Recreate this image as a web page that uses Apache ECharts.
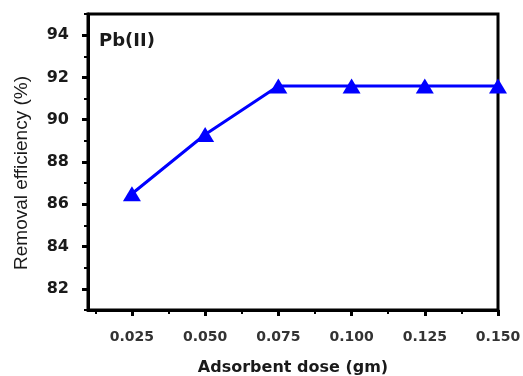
<!DOCTYPE html>
<html><head><meta charset="utf-8">
<script src="https://cdn.jsdelivr.net/npm/echarts@6/dist/echarts.min.js"></script>
<style>html,body{margin:0;padding:0;background:#fff}#c{width:523px;height:376px}</style>
</head><body><div id="c"></div>
<script>
const doses = [0.025, 0.050, 0.075, 0.100, 0.125, 0.150];
const removal = [86.5, 89.3, 91.6, 91.6, 91.6, 91.6];
const xMajor = [0.025, 0.050, 0.075, 0.100, 0.125, 0.150];
const xMinor = [0.0125, 0.0375, 0.0625, 0.0875, 0.1125, 0.1375];
const yMajor = [82, 84, 86, 88, 90, 92, 94];
const yMinor = [81, 83, 85, 87, 89, 91, 93, 95];

const chart = echarts.init(document.getElementById('c'));
const dv = 'DejaVu Sans, sans-serif';
chart.setOption({
  animation: false,
  grid: {left: 88, right: 25, top: 14, bottom: 66, show: true, borderColor: '#000', borderWidth: 3, containLabel: false, outerBoundsMode: 'none'},
  title: {text: 'Pb(II)', left: 94, top: 27, textStyle: {fontFamily: dv, fontWeight: 'bold', fontSize: 18, color: '#1a1a1a'}},
  xAxis: [{
    type: 'value', min: 0.01, max: 0.15,
    name: 'Adsorbent dose (gm)', nameLocation: 'middle', nameGap: 50,
    nameTextStyle: {fontFamily: dv, fontWeight: 'bold', fontSize: 16, color: '#1a1a1a'},
    axisLine: {lineStyle: {color: '#000', width: 3}},
    axisTick: {customValues: xMajor, length: 6, lineStyle: {color: '#000', width: 3}},
    axisLabel: {customValues: xMajor, margin: 20, fontSize: 14, fontFamily: dv, fontWeight: 'bold', color: '#333', formatter: v => v.toFixed(3)},
    splitLine: {show: false}
  }, {
    type: 'value', min: 0.01, max: 0.15, position: 'bottom',
    axisLine: {show: false},
    axisTick: {customValues: xMinor, length: 4, lineStyle: {color: '#000', width: 2}},
    axisLabel: {show: false}, splitLine: {show: false}
  }],
  yAxis: [{
    type: 'value', min: 81, max: 95,
    name: 'Removal efficiency (%)', nameLocation: 'middle', nameGap: 57,
    nameTextStyle: {fontFamily: 'Liberation Sans, Arial, sans-serif', fontSize: 19, color: '#1a1a1a', padding: [0, 22, 0, 0]},
    axisLine: {show: true, lineStyle: {color: '#000', width: 3}},
    axisTick: {customValues: yMajor, length: 6, lineStyle: {color: '#000', width: 3}},
    axisLabel: {customValues: yMajor, margin: 19, fontSize: 16, fontFamily: dv, fontWeight: 'bold', color: '#1a1a1a'},
    splitLine: {show: false}
  }, {
    type: 'value', min: 81, max: 95, position: 'left',
    axisLine: {show: false},
    axisTick: {show: true, customValues: yMinor, length: 4, lineStyle: {color: '#000', width: 2}},
    axisLabel: {show: false}, splitLine: {show: false}
  }],
  series: [{
    type: 'line', xAxisIndex: 0, yAxisIndex: 0,
    data: doses.map((d, i) => [d, removal[i]]),
    symbol: 'triangle', symbolSize: [18, 15],
    lineStyle: {color: '#0000FF', width: 3},
    itemStyle: {color: '#0000FF'}
  }]
});
</script></body></html>
